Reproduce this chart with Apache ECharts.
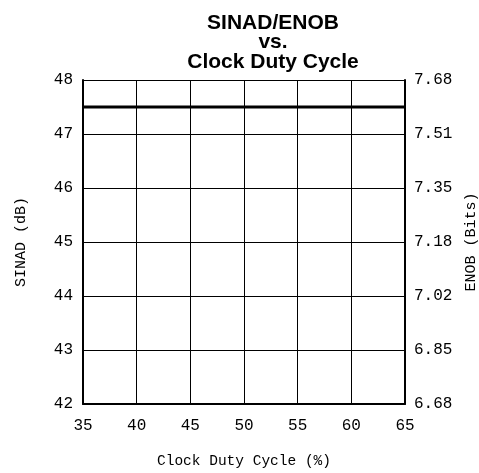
<!DOCTYPE html>
<html><head><meta charset="utf-8">
<script src="https://cdn.jsdelivr.net/npm/echarts@6/dist/echarts.min.js"></script>
<style>html,body{margin:0;padding:0;background:#fff}#c{width:479px;height:473px}</style>
</head><body><div id="c"></div>
<script>
const dutyCycle = [35, 40, 45, 50, 55, 60, 65];
const sinad = [47.5, 47.5, 47.5, 47.5, 47.5, 47.5, 47.5];
const xTicks = [35, 40, 45, 50, 55, 60, 65];
const sinadTicks = [42, 43, 44, 45, 46, 47, 48];
const enobTicks = ['6.68', '6.85', '7.02', '7.18', '7.35', '7.51', '7.68'];

const mono = 'Liberation Mono';
const tickFont = {fontFamily: mono, fontSize: 16, color: '#000'};
const chart = echarts.init(document.getElementById('c'));
chart.setOption({
  animation: false,
  title: {
    text: 'SINAD/ENOB\nvs.\nClock Duty Cycle',
    left: 268, top: 8, textAlign: 'center',
    textStyle: {fontFamily: 'Liberation Sans', fontWeight: 'bold', fontSize: 21, lineHeight: 19.5, color: '#000'}
  },
  grid: {left: 83, right: 74, top: 80, bottom: 69, containLabel: false, outerBoundsMode: 'none'},
  xAxis: {
    type: 'value', min: 35, max: 65, interval: 5,
    name: 'Clock Duty Cycle (%)', nameLocation: 'middle', nameGap: 50,
    nameTextStyle: {fontFamily: mono, fontSize: 14.5, color: '#000'},
    axisLine: {show: true, lineStyle: {color: '#000', width: 2}},
    axisTick: {show: false},
    axisLabel: Object.assign({margin: 14, formatter: v => xTicks.includes(v) ? String(v) : ''}, tickFont),
    splitLine: {show: true, lineStyle: {color: '#000', width: 1}}
  },
  yAxis: [{
    type: 'value', min: 42, max: 48, interval: 1, position: 'left',
    name: 'SINAD (dB)', nameLocation: 'middle', nameGap: 54, nameRotate: 90,
    nameTextStyle: {fontFamily: mono, fontSize: 15, color: '#000'},
    axisLine: {show: true, lineStyle: {color: '#000', width: 2}},
    axisTick: {show: false},
    axisLabel: Object.assign({margin: 10, formatter: v => sinadTicks.includes(v) ? String(v) : ''}, tickFont),
    splitLine: {show: true, lineStyle: {color: '#000', width: 1}}
  }, {
    type: 'value', min: 42, max: 48, interval: 1, position: 'right',
    name: 'ENOB (Bits)', nameLocation: 'middle', nameGap: 59, nameRotate: 90,
    nameTextStyle: {fontFamily: mono, fontSize: 15, color: '#000'},
    axisLine: {show: true, lineStyle: {color: '#000', width: 2}},
    axisTick: {show: false},
    axisLabel: Object.assign({margin: 9, formatter: v => enobTicks[Math.round(v - 42)] || ''}, tickFont),
    splitLine: {show: false}
  }],
  series: [{
    type: 'line', yAxisIndex: 0,
    data: dutyCycle.map((x, i) => [x, sinad[i]]),
    showSymbol: false, lineStyle: {color: '#000', width: 3}
  }, {
    type: 'line', yAxisIndex: 1, data: []
  }]
});
</script></body></html>
